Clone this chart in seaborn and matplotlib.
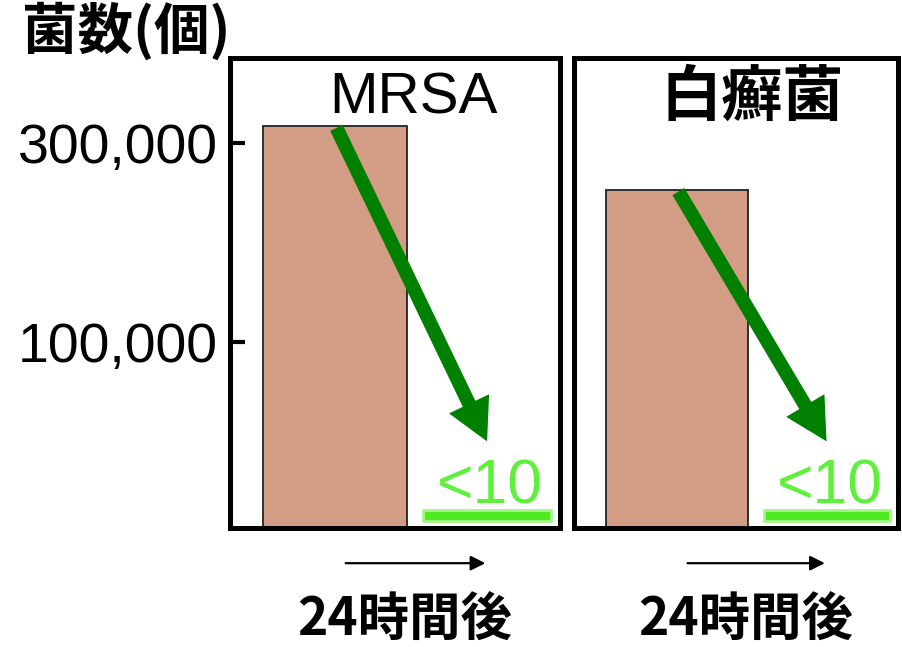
import matplotlib
matplotlib.use("Agg")
import matplotlib.pyplot as plt
import seaborn as sns

# 図から読み取った値
panels = ["MRSA", "白癬菌"]
counts_before = [317000, 253000]
counts_after = [10, 10]
after_labels = ["<10", "<10"]
ytick_values = [100000, 300000]
ytick_labels = ["100,000", "300,000"]
x_label = "24時間後"
y_title = "菌数(個)"

Y_MIN, Y_MAX = -87000, 385000
X_MIN, X_MAX = -0.69, 1.48

sns.set_style("white")
plt.rcParams["font.family"] = ["Liberation Sans", "Noto Sans CJK JP", "DejaVu Sans"]
plt.rcParams["axes.unicode_minus"] = False
plt.rcParams["text.color"] = "black"
plt.rcParams["ytick.color"] = "black"
plt.rcParams["ytick.labelcolor"] = "black"

fig = plt.figure(figsize=(9.02, 6.47), dpi=100)
boxes = [[0.255, 0.184, 0.366, 0.726], [0.636, 0.184, 0.360, 0.726]]

for i, name in enumerate(panels):
    ax = fig.add_axes(boxes[i])
    # 処理前の棒（下端は枠の底から）
    sns.barplot(x=[0], y=[counts_before[i] - Y_MIN], bottom=Y_MIN, native_scale=True,
                width=0.947, color="#d39c85", edgecolor="#222222", linewidth=1.3,
                errorbar=None, saturation=1, ax=ax)
    # 24時間後 (<10) は細い帯で表示
    sns.barplot(x=[1], y=[counts_after[i] + 12000], bottom=Y_MIN + 6500, native_scale=True,
                width=0.842, color="#4eea22", edgecolor="#a6f58a", linewidth=2,
                errorbar=None, saturation=1, ax=ax)
    ax.set_xlim(X_MIN, X_MAX)
    ax.set_ylim(Y_MIN, Y_MAX)

    ax.annotate("", xy=(1, 0), xytext=(0.01, counts_before[i] - 2000),
                arrowprops=dict(facecolor="#008000", edgecolor="none", width=10,
                                headwidth=32, headlength=30, shrink=0))
    ax.text(1.02, -62000, after_labels[i], color="#5ef03a", fontsize=45,
            ha="center", va="baseline")

    if i == 0:
        ax.text(0.555, 0.915, name, transform=ax.transAxes, fontsize=42,
                color="black", ha="center", va="center")
    else:
        ax.text(0.55, 0.915, name, transform=ax.transAxes, fontsize=44,
                family="Noto Sans CJK JP", weight="bold", color="black",
                ha="center", va="center")

    ax.set_xticks([])
    if i == 0:
        ax.set_yticks(ytick_values)
        ax.set_yticklabels(ytick_labels, fontsize=40, color="black")
        ax.tick_params(axis="y", direction="in", length=11, width=3, pad=9,
                       left=True, color="black")
    else:
        ax.set_yticks([])
    ax.set_xlabel("")
    ax.set_ylabel("")
    for sp in ax.spines.values():
        sp.set_visible(True)
        sp.set_color("black")
        sp.set_linewidth(3.6)

    ax.annotate("", xy=(0.782, -0.075), xytext=(0.342, -0.075),
                xycoords="axes fraction", textcoords="axes fraction",
                arrowprops=dict(arrowstyle="-|>", color="black", lw=1.6,
                                mutation_scale=22), annotation_clip=False)
    ax.text(0.53, -0.196, x_label, transform=ax.transAxes, fontsize=37,
            family="Noto Sans CJK JP", weight="bold", color="black",
            ha="center", va="center")

fig.text(0.024, 0.952, y_title, fontsize=40, family="Noto Sans CJK JP",
         weight="bold", color="black", ha="left", va="center")

fig.savefig("out.png", dpi=100)
